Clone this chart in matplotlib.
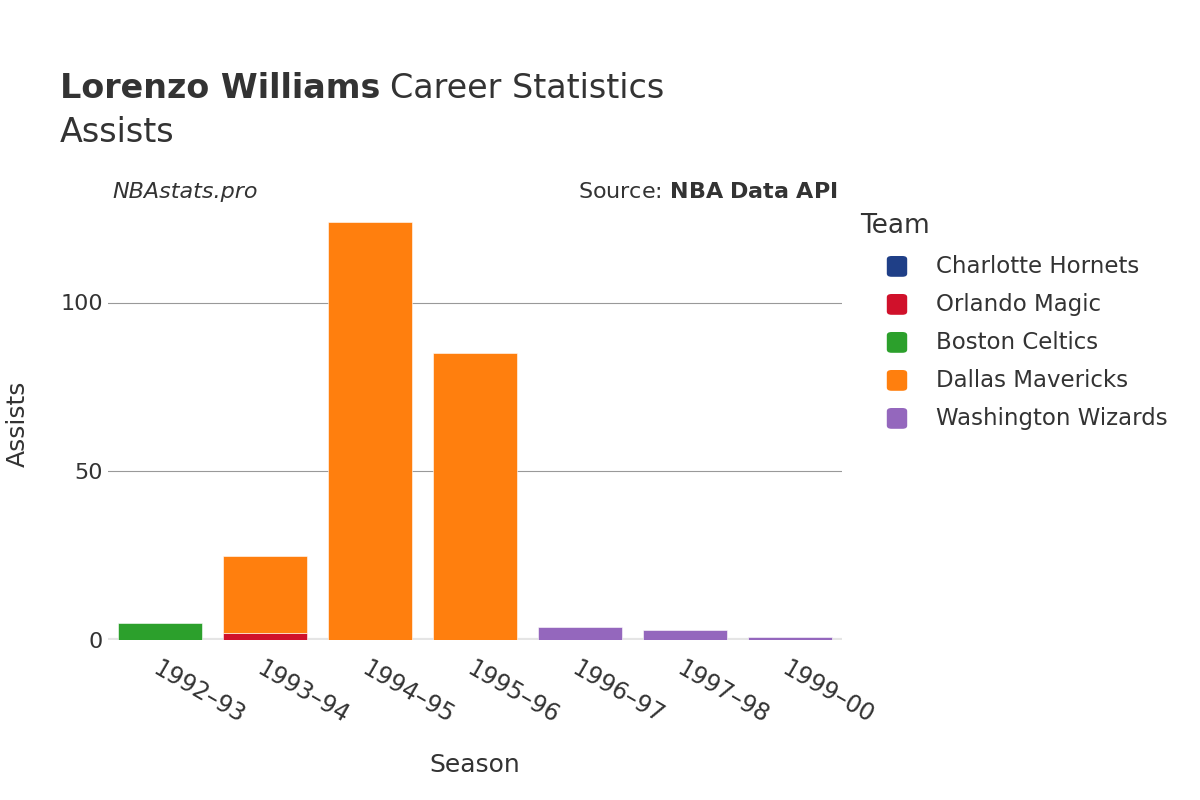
import matplotlib
matplotlib.use("Agg")
import matplotlib.pyplot as plt
from matplotlib.patches import FancyBboxPatch
import numpy as np

seasons = ["1992–93", "1993–94", "1994–95", "1995–96", "1996–97", "1997–98", "1999–00"]
teams = ["Charlotte Hornets", "Orlando Magic", "Boston Celtics", "Dallas Mavericks", "Washington Wizards"]
colors = ["#1f3f87", "#d0112b", "#2ca02c", "#ff7f0e", "#9467bd"]
assists = {
    "Charlotte Hornets": [0, 0, 0, 0, 0, 0, 0],
    "Orlando Magic": [0, 2, 0, 0, 0, 0, 0],
    "Boston Celtics": [5, 0, 0, 0, 0, 0, 0],
    "Dallas Mavericks": [0, 23, 124, 85, 0, 0, 0],
    "Washington Wizards": [0, 0, 0, 0, 4, 3, 1],
}

fig = plt.figure(figsize=(12, 8), dpi=100)
ax = fig.add_axes([0.09, 0.2, 0.612, 0.54])
x = np.arange(len(seasons))
bottom = np.zeros(len(seasons))
w = 0.8
for t, c in zip(teams, colors):
    v = np.array(assists[t], dtype=float)
    for i in range(len(seasons)):
        if v[i] > 0:
            ax.bar(x[i], v[i], w, bottom=bottom[i], color=c, edgecolor="white", linewidth=0.4, zorder=3)
    bottom += v
ax.set_xlim(-0.5, len(seasons) - 0.5)
ax.set_ylim(0, 128)
ax.set_yticks([0, 50, 100])
ax.yaxis.grid(True, color="#999999", linewidth=0.8, zorder=0)
ax.axhline(0, color="#e5e5e5", linewidth=3, zorder=2)
for s in ax.spines.values():
    s.set_visible(False)
ax.set_xticks(x)
ax.set_xticklabels(seasons, rotation=-30, ha="left", rotation_mode="anchor", fontsize=17, color="#333333")
ax.tick_params(axis="x", length=0, labelsize=17, labelcolor="#333333", pad=12)
ax.tick_params(axis="y", length=0, labelsize=16, labelcolor="#333333")
ax.set_xlabel("Season", fontsize=18, color="#333333", labelpad=18)
ax.set_ylabel("Assists", fontsize=18, color="#333333", labelpad=22)

t1 = fig.text(0.05, 0.89, "Lorenzo Williams", fontsize=24, fontweight="bold", color="#333333", va="center")
fig.canvas.draw()
bb = t1.get_window_extent().transformed(fig.transFigure.inverted())
fig.text(bb.x1 + 0.008, 0.89, "Career Statistics", fontsize=24, color="#333333", va="center")
fig.text(0.05, 0.835, "Assists", fontsize=24, color="#333333", va="center")
fig.text(0.094, 0.76, "NBAstats.pro", fontsize=16, style="italic", color="#333333", va="center")
fig.text(0.698, 0.76, "Source: $\\bf{NBA\\ Data\\ API}$", fontsize=16, color="#333333", va="center", ha="right")

fig.text(0.717, 0.717, "Team", fontsize=19, color="#333333", va="center")
for i, (t, c) in enumerate(zip(teams, colors)):
    yy = 0.667 - i * 0.0475
    fig.patches.append(FancyBboxPatch((0.739, yy - 0.013), 0.017, 0.026, boxstyle="round,pad=0,rounding_size=0.004",
                                      transform=fig.transFigure, facecolor=c, edgecolor="none"))
    fig.text(0.78, yy, t, fontsize=16.5, color="#333333", va="center")

fig.savefig("out.png", dpi=100)
